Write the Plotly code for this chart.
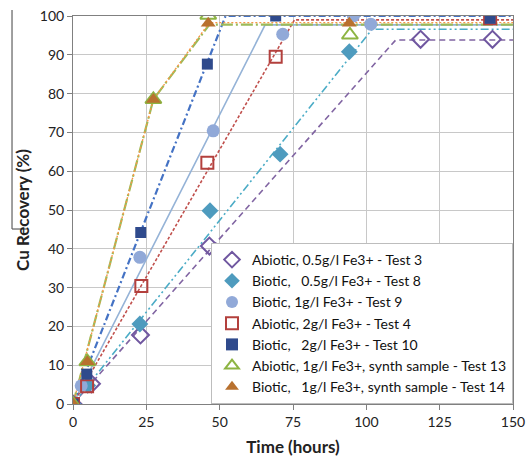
import plotly.graph_objects as go

# ---- measured data (markers) ----
t3_x = [0, 6.3, 23, 46.5, 118.5, 143]
t3_y = [0, 5.2, 17.8, 40.7, 94, 94]
t8_x = [0, 5, 22.8, 46.7, 70.6, 94.2]
t8_y = [0, 4.8, 20.6, 49.8, 64.4, 90.8]
t9_x = [0, 2.8, 22.8, 47.8, 71.5, 95.6, 101.5]
t9_y = [0, 4.7, 37.8, 70.4, 95.3, 100, 97.9]
t4_x = [0, 4.8, 23.3, 45.8, 69.1, 142.2]
t4_y = [0, 4.6, 30.4, 62.2, 89.5, 99.4]
t10_x = [0, 4.7, 23.1, 45.8, 69.1, 142.2]
t10_y = [0, 7.7, 44.2, 87.6, 100, 99.4]
t13_x = [0, 4.9, 27.4, 46.1, 94.4]
t13_y = [0, 10.9, 78.5, 100.2, 95.1]
t14_x = [0, 4.9, 27.4, 46.1, 94.2]
t14_y = [0, 10.9, 78.5, 98.1, 98.1]

# ---- model curves (line breakpoints) ----
m3_x = [0, 110, 150];  m3_y = [0, 93.8, 93.8]
m8_x = [0, 102, 150];  m8_y = [0, 96.6, 96.6]
m9_x = [0, 65.5, 150]; m9_y = [0, 97.7, 97.7]
m4_x = [0, 75.5, 150]; m4_y = [0, 99, 99]
m10_x = [0, 52, 150];  m10_y = [0, 100, 100]
m13_x = [0, 27.4, 46.5, 150]; m13_y = [0, 78.5, 97.8, 97.8]
m14_x = [0, 27.4, 46.5, 150]; m14_y = [0, 78.5, 98.3, 98.3]

names = [
    "Abiotic, 0.5g/l Fe3+ - Test 3",
    "Biotic,   0.5g/l Fe3+ - Test 8",
    "Biotic, 1g/l Fe3+ - Test 9",
    "Abiotic, 2g/l Fe3+ - Test 4",
    "Biotic,   2g/l Fe3+ - Test 10",
    "Abiotic, 1g/l Fe3+, synth sample - Test 13",
    "Biotic,   1g/l Fe3+, synth sample - Test 14",
]

fig = go.Figure()

lines = [
    (m3_x, m3_y, dict(color="#8064A2", width=1.6, dash="6px,4px")),
    (m8_x, m8_y, dict(color="#4BACC6", width=1.6, dash="8px,3px,2px,3px,2px,3px")),
    (m9_x, m9_y, dict(color="#95B3D7", width=1.6, dash="solid")),
    (m4_x, m4_y, dict(color="#C0504D", width=1.6, dash="3px,2px")),
    (m10_x, m10_y, dict(color="#4472C4", width=2.2, dash="7px,3px,2px,3px")),
    (m13_x, m13_y, dict(color="#9BBB59", width=2.2, dash="12px,3px,2px,3px")),
    (m14_x, m14_y, dict(color="#F79646", width=1.4, dash="2px,2px")),
]
for i, (lx, ly, ln) in enumerate(lines):
    fig.add_trace(go.Scatter(x=lx, y=ly, mode="lines", line=ln,
                             showlegend=False, legendgroup=f"g{i}", hoverinfo="skip"))

markers = [
    (t3_x, t3_y, dict(symbol="diamond-open", size=13, color="#7057A0", line=dict(width=2, color="#7057A0"))),
    (t8_x, t8_y, dict(symbol="diamond", size=13, color="#4E9BBE")),
    (t9_x, t9_y, dict(symbol="circle", size=13, color="#91A9D8")),
    (t4_x, t4_y, dict(symbol="square-open", size=12, color="#B3403D", line=dict(width=2, color="#B3403D"))),
    (t10_x, t10_y, dict(symbol="square", size=11, color="#2F4A8C")),
    (t13_x, t13_y, dict(symbol="triangle-up-open", size=14, color="#8DB443", line=dict(width=2, color="#8DB443"))),
    (t14_x, t14_y, dict(symbol="triangle-up", size=13, color="#B8712F")),
]
for i, (mx, my, mk) in enumerate(markers):
    fig.add_trace(go.Scatter(x=mx, y=my, mode="markers", marker=mk, name=names[i],
                             legendgroup=f"g{i}"))

font_family = "Lato, 'Liberation Sans', Arial, sans-serif"

fig.update_layout(
    width=526, height=460,
    margin=dict(l=73, r=13, t=16, b=56, autoexpand=False),
    paper_bgcolor="white", plot_bgcolor="white",
    font=dict(family=font_family, size=14, color="#222"),
    showlegend=True,
    legend=dict(
        x=1.0, y=0.0, xanchor="right", yanchor="bottom",
        bgcolor="white", bordercolor="#BDBDBD", borderwidth=1,
        font=dict(size=14, family=font_family, color="#111"),
        tracegroupgap=0, itemsizing="constant",
    ),
    xaxis=dict(
        range=[0, 150], tickvals=[0, 25, 50, 75, 100, 125, 150],
        showgrid=True, gridcolor="#C8C8C8", gridwidth=1,
        showline=True, linecolor="#808080", linewidth=1, mirror=True,
        ticks="outside", ticklen=5, tickcolor="#808080",
        zeroline=False, automargin=False,
        title=dict(text="<b>Time (hours)</b>", font=dict(size=17), standoff=12),
    ),
    yaxis=dict(
        range=[0, 100], tickvals=list(range(0, 101, 10)),
        showgrid=True, gridcolor="#C8C8C8", gridwidth=1,
        showline=True, linecolor="#808080", linewidth=1, mirror=True,
        ticks="outside", ticklen=5, tickcolor="#808080",
        zeroline=False, automargin=False,
        title=dict(text="<b>Cu Recovery (%)</b>", font=dict(size=17), standoff=5),
    ),
)

# stray frame line at left edge of the original figure
fig.add_shape(type="line", xref="paper", yref="paper", layer="above",
              x0=-0.1386, x1=-0.1386, y0=1.0155, y1=0.451,
              line=dict(color="#606060", width=1.2))
fig.add_shape(type="line", xref="paper", yref="paper", layer="above",
              x0=-0.1386, x1=-0.105, y0=0.451, y1=0.451,
              line=dict(color="#606060", width=1.2))

fig.write_html("out.html")
